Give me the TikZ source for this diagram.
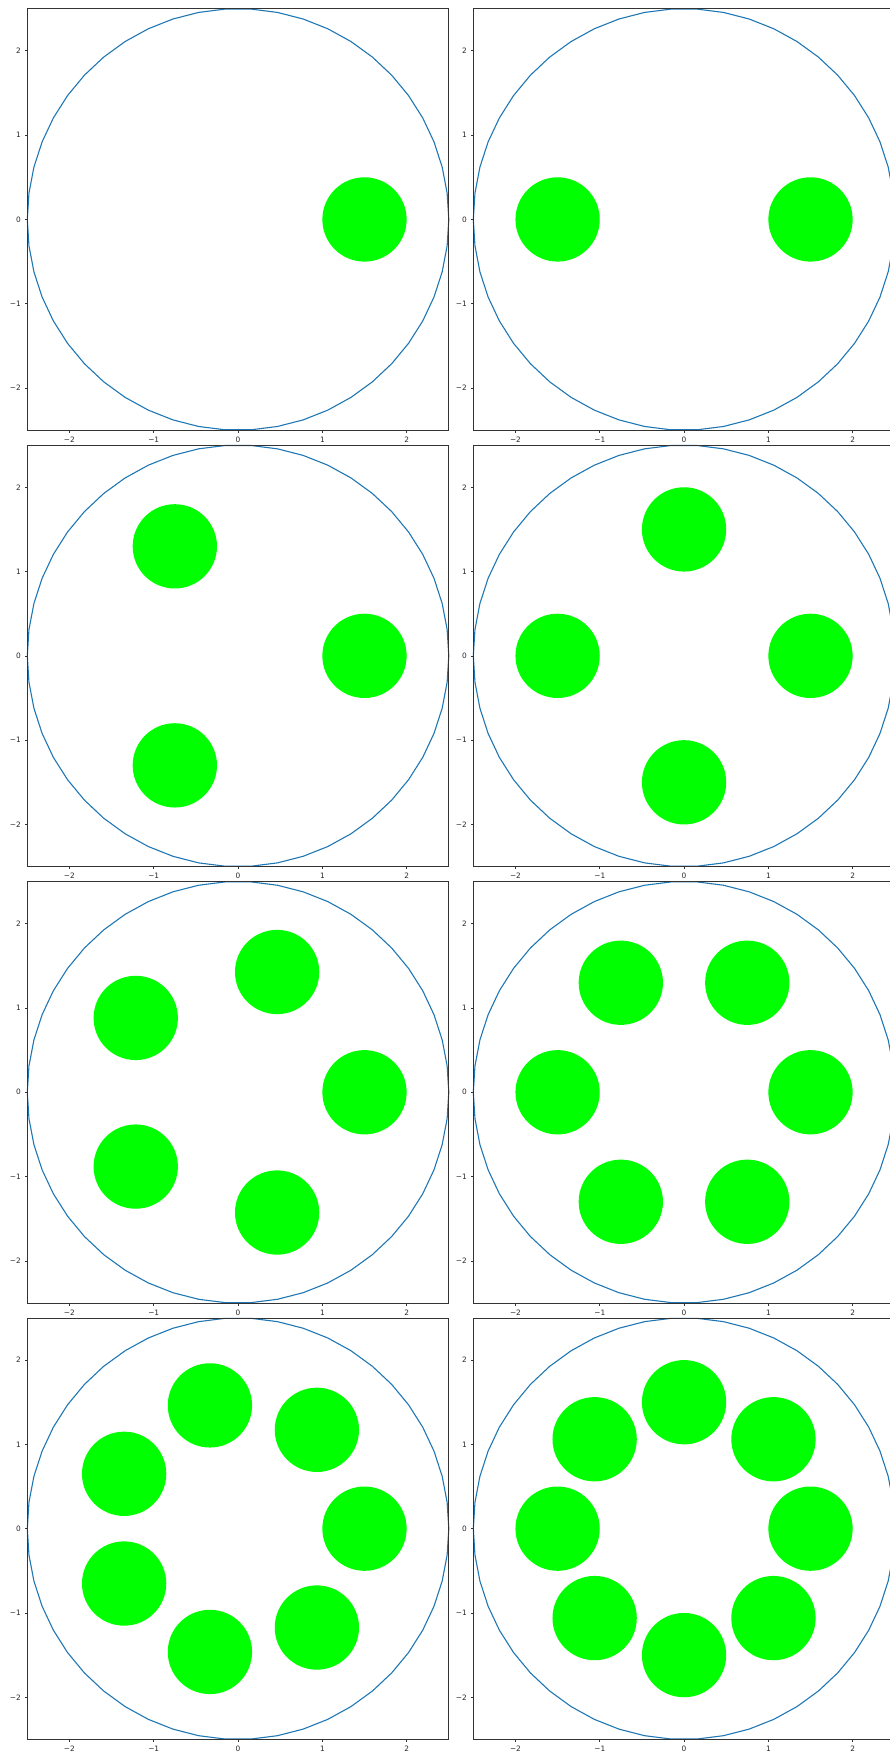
\documentclass[tikz,border=0pt]{standalone}
\usepackage{fontspec}
\setmainfont{DejaVu Sans}
\definecolor{mplblue}{HTML}{1F77B4}
\definecolor{limegreen}{HTML}{00FF00}
\tikzset{
  spine/.style={draw=black!80, line width=0.8pt},
  ring/.style={draw=mplblue, line width=1.1pt, line join=round},
  disc/.style={fill=limegreen, draw=none},
  tickmark/.style={draw=black!80, line width=0.7pt},
  ticklabel/.style={font=\fontsize{7.4}{8}\selectfont, text=black!85, inner sep=0pt},
}
\begin{document}
\begin{tikzpicture}[x=1pt,y=1pt]
\useasboundingbox (0,0) rectangle (889,-1753);
\foreach \n in {1,...,8}{
  \pgfmathtruncatemacro\col{mod(\n-1,2)}
  \pgfmathtruncatemacro\row{int((\n-1)/2)}
  \pgfmathsetmacro\cx{238.05+446*\col}
  \pgfmathsetmacro\cy{-(219.45+436.4*\row)}
  \begin{scope}[shift={(\cx,\cy)}, x=84.3pt, y=84.3pt]
    % green discs
    \foreach \k in {1,...,\n}{
      \fill[disc] ({1.5*cos(360*(\k-1)/\n)},{1.5*sin(360*(\k-1)/\n)}) circle[radius=0.5];
    }
    % polygonal circle
    \draw[ring] plot[samples=51, domain=0:360, variable=\a] ({2.5*cos(\a)},{2.5*sin(\a)}) -- cycle;
    % spines
    \draw[spine] (-2.5,-2.5) rectangle (2.5,2.5);
    % ticks and labels
    \foreach \t/\lab [count=\i] in {-2/−2,-1/−1,0/0,1/1,2/2}{
      \draw[tickmark] (\t,-2.5) -- ++(0,-2.6pt);
      \draw[tickmark] (-2.5,\t) -- ++(-2.6pt,0);
      \node[ticklabel, anchor=north] (xl-\n-\i) at ([yshift=-6.6pt]\t,-2.5) {\lab};
      \node[ticklabel, anchor=east] (yl-\n-\i) at ([xshift=-6.2pt]-2.5,\t) {\lab};
    }
  \end{scope}
}
\end{tikzpicture}
\end{document}
